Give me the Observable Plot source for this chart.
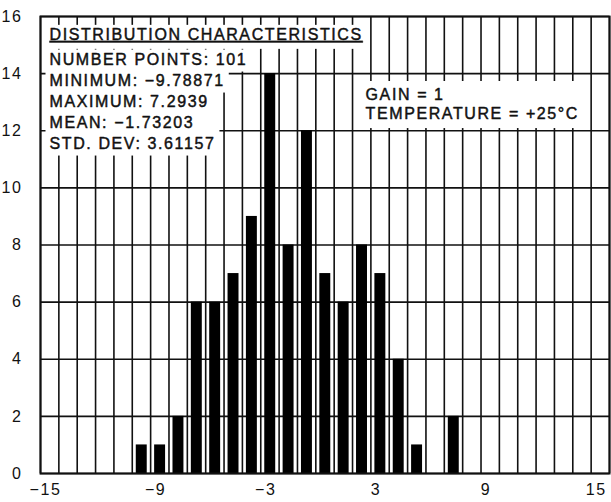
<!DOCTYPE html>
<html><head><meta charset="utf-8">
<script src="https://cdn.jsdelivr.net/npm/d3@7"></script>
<script src="https://cdn.jsdelivr.net/npm/@observablehq/plot@0.6"></script>
<style>
body{margin:0;background:#fff;}
#chart svg{display:block;}
</style></head><body><div id="chart"></div>
<script>
// Histogram bins (lower edge of each 1-unit bin) and counts
const binStarts = [-10,-9,-8,-7,-6,-5,-4,-3,-2,-1,0,1,2,3,4,5,6,7];
const counts    = [  1, 1, 2, 6, 6, 7, 9,14, 8,12,7,6,8,7,4,1,0,2];
const binWidth = 1;
const xTicks = [-15,-9,-3,3,9,15];
const yTicks = [0,2,4,6,8,10,12,14,16];
const xGrid = d3.range(-15, 17, 1);
const statsTitle = "DISTRIBUTION CHARACTERISTICS";
const statsLines = ["NUMBER POINTS: 101","MINIMUM: \u22129.78871","MAXIMUM: 7.2939","MEAN: \u22121.73203","STD. DEV: 3.61157"];
const conditionLines = ["GAIN = 1","TEMPERATURE = +25\u00B0C"];

const bins = binStarts.map((x0, i) => ({x0, x1: x0 + binWidth, count: counts[i]}));

// annotation anchors (data units)
const statsAnchor = {x: -14.51, y: 15.58};
const bodyAnchor = {x: -14.51, y: 14.84};
const condAnchor = {x: 2.71, y: 13.55};

const bodyStats = statsLines.join("\n");
const condText = conditionLines.join("\n");

const ink = "#111";
const bold = {stroke: ink, strokeWidth: 0.45};
const chart = Plot.plot({
  width: 611, height: 502,
  marginLeft: 40, marginRight: 2, marginTop: 16, marginBottom: 29,
  style: {fontFamily: "'Liberation Sans', Arial, Helvetica, sans-serif", fontSize: "16px", color: ink, background: "#fff", letterSpacing: "1.6px"},
  x: {domain: [-15, 16], label: null},
  y: {domain: [0, 16], label: null},
  marks: [
    Plot.gridX(xGrid, {stroke: ink, strokeOpacity: 1, strokeWidth: 1.6}),
    Plot.gridY(yTicks, {stroke: ink, strokeOpacity: 1, strokeWidth: 1.6}),
    Plot.rectY(bins, {x1: "x0", x2: "x1", y: "count", fill: "#000", insetLeft: 4, insetRight: 3.4}),
    Plot.frame({stroke: ink, strokeWidth: 2}),
    Plot.axisX(xTicks, {tickSize: 0, tickPadding: 10, dx: 5, fontSize: 16, fill: ink, ...bold}),
    Plot.axisY(yTicks, {tickSize: 0, tickPadding: 18, fontSize: 16, fill: ink, ...bold}),
    Plot.text([bodyStats], {x: [bodyAnchor.x], y: [bodyAnchor.y], text: d => d, textAnchor: "start", lineAnchor: "top", lineHeight: 1.3125, fontSize: 16, fill: ink, ...bold, className: "note-line"}),
    Plot.text([statsTitle], {x: [statsAnchor.x], y: [statsAnchor.y], text: d => d, textAnchor: "start", lineAnchor: "top", fontSize: 16, fill: ink, ...bold, className: "stats-title note-line"}),
    Plot.text([condText], {x: [condAnchor.x], y: [condAnchor.y], text: d => d, textAnchor: "start", lineAnchor: "top", lineHeight: 1.19, fontSize: 16, fill: ink, ...bold, className: "note-block"})
  ]
});
d3.select(chart).selectAll(".stats-title text").style("text-decoration", "underline");
document.getElementById("chart").appendChild(chart);

// white backing boxes behind the annotation text, sized from the rendered text
const NS = "http://www.w3.org/2000/svg";
function addRect(t, x, y, w, h) {
  const r = document.createElementNS(NS, "rect");
  r.setAttribute("x", x); r.setAttribute("y", y);
  r.setAttribute("width", w); r.setAttribute("height", h);
  r.setAttribute("fill", "white"); r.setAttribute("stroke", "none");
  const tr = t.getAttribute("transform");
  if (tr) r.setAttribute("transform", tr);
  t.parentNode.insertBefore(r, t);
}
chart.querySelectorAll(".note-line text").forEach(t => {
  const spans = Array.from(t.querySelectorAll("tspan"));
  const els = spans.length ? spans : [t];
  const boxes = els.map(e => e.getBBox());
  boxes.forEach((b, i) => {
    // each row's box reaches at least as far right as the rows beneath it (stepped block)
    const right = d3.max(boxes.slice(i), d => d.x + d.width);
    const padBottom = spans.length ? 4 : 6;
    addRect(t, b.x - 4, b.y - 1, right - b.x + 8, b.height + 1 + padBottom);
  });
});
chart.querySelectorAll(".note-block text").forEach(t => {
  const b = t.getBBox();
  addRect(t, b.x - 9, b.y - 5, b.width + 18, b.height + 11);
});
</script></body></html>
